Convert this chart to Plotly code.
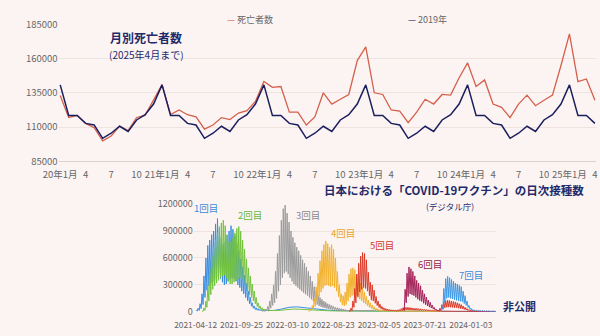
import pandas as pd
import plotly.graph_objects as go

# ---------------- top chart: monthly deaths ----------------
month_idx = list(range(64))  # 2020-01 .. 2025-04
deaths = [
    133000, 117000, 118500, 112700, 109500, 100000, 103500, 110800, 107500, 117000, 118500, 130000,  # 2020
    141000, 119200, 122500, 119000, 117400, 108500, 111500, 116900, 115500, 120200, 122000, 128700,  # 2021
    143200, 139000, 139600, 120900, 120900, 111500, 117400, 135000, 126800, 130300, 133800, 158500,  # 2022
    168500, 135000, 133800, 122500, 121600, 113200, 120900, 130300, 126800, 133800, 133300, 146000,  # 2023
    156800, 139600, 144400, 126800, 124400, 116900, 126800, 133300, 125600, 129600, 133300, 154900,  # 2024
    178000, 143200, 145100, 129600,                                                                  # 2025
]
deaths_2019 = [140800, 118500, 118500, 112700, 111500, 101800, 105500, 110600, 106800, 115200, 119000, 126800]
ref_2019 = [deaths_2019[i % 12] for i in month_idx]  # 2019 repeated every year

top_tickvals = list(range(0, 64, 3))
top_ticktext = ['20年1月', '4', '7', '10', '21年1月', '4', '7', '10', '22年1月', '4', '7', '10',
                '23年1月', '4', '7', '10', '24年1月', '4', '7', '10', '25年1月', '4']
top_yticks = [85000, 110000, 135000, 160000, 185000]

# ---------------- bottom chart: daily vaccinations (thousands) ----------------
# weekly weekday-high / weekend-low values, plus a 4-weekly tail
dose_names = ['1回目', '2回目', '3回目', '4回目', '5回目', '6回目', '7回目']
dose_start = ['2021-04-12', '2021-05-03', '2021-12-06', '2022-05-23', '2022-10-17', '2023-05-01', '2023-09-18']
dose_high = [
    [20, 40, 90, 200, 400, 600, 740, 800, 860, 900, 980, 1040, 930, 820, 760, 780, 850, 900, 960, 920,
     850, 760, 680, 590, 500, 410, 320, 230, 160, 100, 65, 45, 35, 28, 22, 18],
    [10, 40, 120, 300, 480, 620, 720, 800, 880, 950, 990, 1020, 960, 860, 790, 780, 820, 880, 930, 950,
     900, 800, 700, 590, 490, 400, 310, 230, 160, 100, 65, 45, 32, 25, 20],
    [10, 15, 30, 60, 120, 200, 300, 450, 650, 850, 1020, 1150, 1190, 1100, 1000, 900, 830, 770, 720, 680,
     630, 580, 540, 500, 450, 400, 340, 280, 230, 190, 160, 140, 120, 105, 90, 80, 70, 60, 50, 45,
     40, 35, 30, 25, 20, 18, 15],
    [10, 30, 70, 150, 280, 430, 570, 680, 750, 790, 760, 720, 750, 700, 600, 450, 300, 200, 180, 220,
     320, 420, 480, 490, 470, 420, 370, 320, 270, 220, 170, 130, 100, 75, 55, 40, 30, 22, 16],
    [10, 40, 120, 260, 420, 540, 620, 660, 650, 580, 440, 330, 300, 240, 170, 120, 85, 60, 45, 35,
     30, 25, 22, 20, 18, 20, 25, 35, 45, 50, 50, 48, 45, 42, 40, 38, 35, 33, 30, 28,
     25, 22, 20, 18, 16, 15, 20, 40, 80, 110, 125, 130, 125, 120, 115, 110, 100, 90, 80, 65,
     50, 35, 25, 18, 14, 12, 10, 9, 8, 7, 7, 6, 6, 5, 5, 5, 4],
    [40, 250, 430, 500, 480, 450, 400, 350, 320, 290, 240, 200, 165, 130, 105, 75, 50, 30, 15, 10, 8],
    [60, 260, 370, 395, 380, 360, 340, 320, 310, 295, 280, 230, 180, 120, 70, 40, 25, 18, 15, 13,
     12, 11, 10, 10, 9, 8, 8, 7, 6],
]
dose_low = [
    [8, 15, 35, 80, 160, 240, 290, 320, 340, 360, 390, 420, 370, 330, 300, 310, 340, 360, 380, 370,
     340, 300, 270, 230, 200, 160, 125, 90, 62, 40, 26, 18, 14, 11, 9, 7],
    [4, 15, 50, 120, 190, 250, 290, 320, 350, 380, 400, 410, 380, 340, 310, 310, 330, 350, 370, 380,
     360, 320, 280, 230, 190, 160, 120, 90, 60, 40, 25, 18, 13, 10, 8],
    [4, 6, 12, 20, 40, 70, 100, 150, 230, 300, 380, 430, 450, 420, 380, 340, 310, 290, 270, 250,
     230, 210, 195, 180, 160, 140, 120, 100, 80, 65, 55, 48, 42, 36, 31, 27, 24, 20, 17, 15,
     13, 12, 10, 8, 7, 6, 5],
    [4, 12, 28, 60, 110, 170, 220, 260, 290, 300, 290, 280, 290, 270, 230, 170, 110, 75, 65, 80,
     120, 160, 180, 190, 180, 160, 140, 120, 100, 85, 65, 50, 38, 28, 20, 15, 11, 8, 6],
    [4, 15, 50, 100, 170, 220, 250, 270, 260, 230, 180, 130, 120, 95, 70, 48, 34, 24, 18, 14,
     12, 10, 9, 8, 7, 8, 10, 14, 18, 20, 20, 19, 18, 17, 16, 15, 14, 13, 12, 11,
     10, 9, 8, 7, 6, 6, 8, 16, 32, 44, 50, 52, 50, 48, 46, 44, 40, 36, 32, 26,
     20, 14, 10, 7, 6, 5, 4, 4, 3, 3, 3, 2, 2, 2, 2, 2, 2],
    [15, 100, 170, 200, 190, 180, 160, 140, 125, 115, 95, 80, 65, 52, 42, 30, 20, 12, 6, 4, 3],
    [25, 100, 150, 160, 150, 145, 135, 128, 124, 118, 112, 92, 72, 48, 28, 16, 10, 7, 6, 5,
     5, 4, 4, 4, 4, 3, 3, 3, 2],
]
dose_tail = [
    [15, 14, 30, 50, 55, 45, 35, 25, 18, 14, 11, 9, 8, 7, 6, 6, 5, 5, 5, 5, 5, 6, 6, 5, 5, 4, 4, 4, 4, 3],
    [15, 14, 22, 30, 28, 22, 16, 12, 9, 7, 6, 5, 5, 4, 4, 4, 4, 3, 3, 3, 3, 3, 3, 3, 3, 3, 2, 2],
    [12, 10, 14, 18, 14, 10, 8, 6, 5, 5, 4, 4, 3, 3, 3, 3, 3, 2],
    [10, 8, 6, 5, 5, 4, 4, 4, 3, 3, 3, 3, 3, 3],
    [],
    [6, 5, 4, 4, 3, 3, 3, 2],
    [],
]
dose_colors = ['#3a8ee0', '#74c33f', '#9b9b9b', '#f2b230', '#dc3b2a', '#a3245a', '#3e98e4']
label_colors = ['#3f8bd6', '#66b83a', '#8a8a8a', '#eba42c', '#d23b2b', '#8e1d45', '#3f8bd6']

bottom_tickvals = ['2021-04-12', '2021-09-25', '2022-03-10', '2022-08-23', '2023-02-05', '2023-07-21', '2024-01-03']
bottom_yticks = [0, 300000, 600000, 900000, 1200000]

BG = '#fcf4f2'
GRID = '#efe3e0'
FONT = 'Noto Sans CJK JP, Noto Sans, sans-serif'
NAVY = '#1e2a6a'

fig = go.Figure()

fig.add_trace(go.Scatter(x=month_idx, y=deaths, mode='lines', name='死亡者数',
                         line=dict(color='#d4604c', width=1.3), xaxis='x', yaxis='y'))
fig.add_trace(go.Scatter(x=month_idx, y=ref_2019, mode='lines', name='2019年',
                         line=dict(color='#1b1f5e', width=1.5), xaxis='x', yaxis='y'))


def zigzag(start, highs, lows, tail):
    s = pd.Timestamp(start)
    xs, ys = [], []
    for k, (h, l) in enumerate(zip(highs, lows)):
        xs.append(s + pd.Timedelta(days=7 * k + 2)); ys.append(h * 1000)
        xs.append(s + pd.Timedelta(days=7 * k + 6)); ys.append(l * 1000)
    end = s + pd.Timedelta(days=7 * len(highs))
    for j, v in enumerate(tail):
        xs.append(end + pd.Timedelta(days=28 * j + 2)); ys.append(v * 1000)
    return xs, ys


for i in range(len(dose_names)):
    xs, ys = zigzag(dose_start[i], dose_high[i], dose_low[i], dose_tail[i])
    fig.add_trace(go.Scatter(x=xs, y=ys, mode='lines', name=dose_names[i],
                             line=dict(color=dose_colors[i], width=1),
                             xaxis='x2', yaxis='y2', showlegend=False))


def px(x, y):
    return x / 600, 1 - y / 336


annotations = []


def add_text(text, x, y, size, color, bold=False, xanchor='center'):
    ax, ay = px(x, y)
    annotations.append(dict(text=('<b>%s</b>' % text) if bold else text, x=ax, y=ay,
                            xref='paper', yref='paper', xanchor=xanchor, yanchor='middle',
                            showarrow=False, font=dict(size=size, color=color, family=FONT)))


# legend (top)
add_text('<span style="color:#d4604c">—</span> 死亡者数', 238, 12, 9, '#666666')
add_text('<span style="color:#1b1f5e">—</span> 2019年', 422, 12, 9, '#666666')
# titles
add_text('月別死亡者数', 131, 31, 12, NAVY, bold=True)
add_text('(2025年4月まで)', 131, 49, 10, NAVY)
add_text('日本における「COVID-19ワクチン」の日次接種数', 450, 190, 11.5, NAVY, bold=True)
add_text('(デジタル庁)', 446, 207, 8.5, NAVY)
# dose labels
label_pos = [(193, 209), (238, 216), (298, 216), (335, 235), (375, 247), (425, 267), (467, 279)]
for i, (lx, ly) in enumerate(label_pos):
    add_text(dose_names[i], lx, ly, 9.5, label_colors[i])
add_text('非公開', 518, 311, 11, NAVY, bold=True)

fig.update_layout(
    width=600, height=336, autosize=False,
    margin=dict(l=0, r=0, t=0, b=0),
    paper_bgcolor=BG, plot_bgcolor=BG,
    showlegend=False,
    font=dict(family=FONT, size=10, color='#666666'),
    annotations=annotations,
    xaxis=dict(domain=[40 / 600, 597 / 600], range=[-0.19, 63.14], anchor='y',
               tickmode='array', tickvals=top_tickvals, ticktext=top_ticktext, tickangle=0,
               tickfont=dict(size=9.5, color='#666666'), showgrid=False, zeroline=False,
               showline=True, linecolor='#ddd1ce', linewidth=1, ticks='', ticklabelstandoff=4),
    yaxis=dict(domain=[176 / 336, 319 / 336], range=[85000, 185000], anchor='x',
               tickmode='array', tickvals=top_yticks, ticktext=[str(v) for v in top_yticks],
               tickfont=dict(size=9.5, color='#666666'),
               gridcolor=GRID, zeroline=False, showline=False, ticks=''),
    xaxis2=dict(domain=[180 / 600, 493 / 600], range=['2021-04-05', '2024-04-02'], anchor='y2',
                type='date', tickmode='array', tickvals=bottom_tickvals, ticktext=bottom_tickvals,
                tickangle=0, tickfont=dict(size=8.4, color='#666666'), showgrid=False, zeroline=False,
                showline=False, ticks='', ticklabelstandoff=7),
    yaxis2=dict(domain=[19 / 336, 131.3 / 336], range=[0, 1200000], anchor='x2',
                tickmode='array', tickvals=bottom_yticks, ticktext=[str(v) for v in bottom_yticks],
                tickfont=dict(size=9, color='#666666'),
                gridcolor=GRID, zeroline=False, showline=False, ticks=''),
)

fig.write_html('out.html')
